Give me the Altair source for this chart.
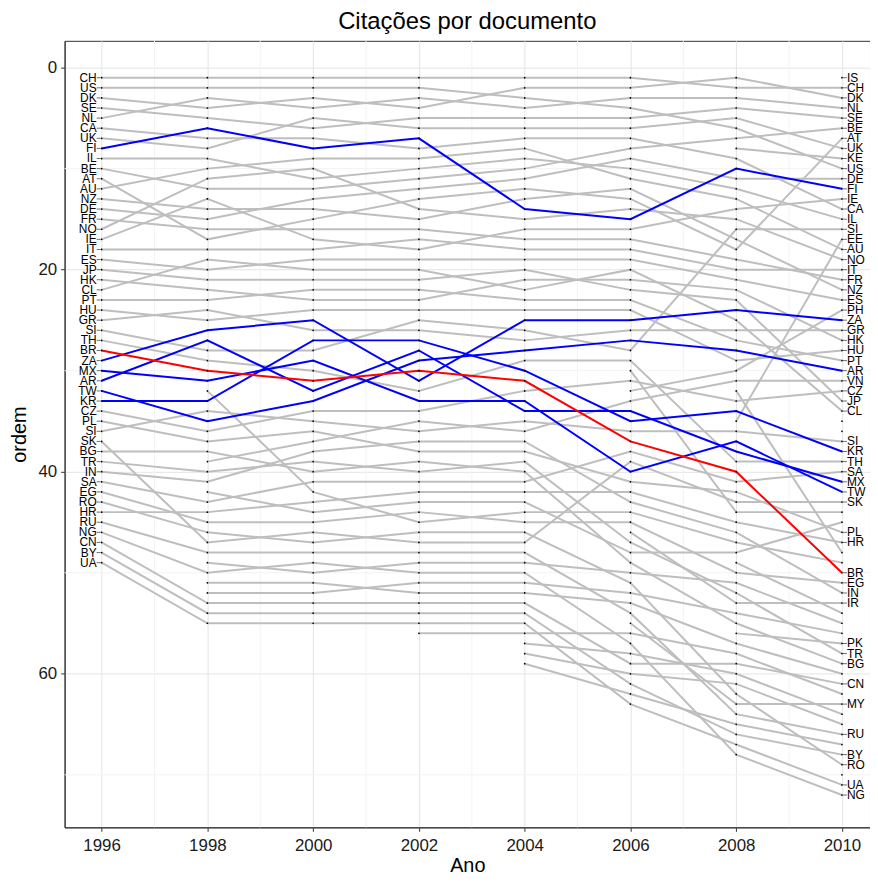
import altair as alt
import pandas as pd

YEARS = [1996, 1998, 2000, 2002, 2004, 2006, 2008, 2010]
N = None

# rank per year (1996 ... 2010); None = country not ranked that year
SERIES = {
    "CH": [1, 1, 1, 1, 1, 1, 2, 2],
    "US": [2, 2, 2, 2, 3, 4, 6, 10],
    "DK": [3, 4, 3, 4, 2, 2, 1, 3],
    "SE": [4, 5, 6, 5, 5, 5, 4, 5],
    "NL": [5, 3, 4, 3, 4, 3, 3, 4],
    "CA": [6, 7, 7, 8, 7, 7, 9, 14],
    "UK": [7, 8, 5, 6, 6, 6, 5, 8],
    "FI": [8, 6, 8, 7, 14, 15, 10, 12],
    "IL": [9, 9, 11, 10, 9, 10, 12, 15],
    "BE": [10, 12, 12, 11, 10, 8, 7, 6],
    "AT": [11, 17, 15, 13, 12, 13, 18, 7],
    "AU": [12, 10, 9, 9, 8, 11, 13, 18],
    "NZ": [13, 14, 14, 15, 13, 12, 17, 22],
    "DE": [14, 15, 13, 12, 11, 9, 11, 11],
    "FR": [15, 16, 16, 16, 17, 17, 19, 21],
    "NO": [16, 11, 10, 14, 15, 14, 15, 19],
    "IE": [17, 13, 17, 18, 16, 16, 14, 13],
    "IT": [18, 18, 18, 17, 18, 18, 20, 20],
    "ES": [19, 20, 19, 19, 19, 19, 21, 23],
    "JP": [20, 21, 21, 21, 20, 22, 23, 33],
    "HK": [21, 22, 23, 23, 21, 21, 22, 27],
    "CL": [22, 19, 20, 20, 22, 20, 25, 34],
    "PT": [23, 23, 22, 22, 23, 23, 27, 29],
    "HU": [24, 25, 24, 24, 24, 24, 29, 28],
    "GR": [25, 24, 26, 26, 27, 26, 26, 26],
    "SI": [26, 28, 28, 25, 26, 28, 16, 16],
    "TH": [27, 29, 30, 32, 29, 29, 39, 39],
    "BR": [28, 30, 31, 30, 31, 37, 40, 50],
    "ZA": [29, 26, 25, 31, 25, 25, 24, 25],
    "MX": [30, 31, 29, 33, 33, 40, 37, 42],
    "AR": [31, 27, 32, 28, 34, 34, 38, 41],
    "TW": [32, 35, 33, 29, 28, 27, 28, 30],
    "KR": [33, 33, 27, 27, 30, 35, 34, 38],
    "CZ": [34, 36, 34, 34, 32, 31, 33, 32],
    "PL": [35, 37, 36, 38, 38, 41, 42, 46],
    "SI_2": [36, 34, 35, 36, 35, 36, 36, 37],
    "SK": [37, 47, 46, 47, 47, 39, 43, 43],
    "BG": [38, 38, 40, 39, 40, 49, 55, 59],
    "TR": [39, 40, 39, 40, 39, 47, 52, 58],
    "IN": [40, 41, 38, 37, 37, 43, 46, 52],
    "SA": [41, 43, 41, 41, 41, 38, 41, 40],
    "EG": [42, 45, 45, 44, 45, 45, 50, 51],
    "RO": [43, 46, 47, 46, 46, 51, 62, 69],
    "HR": [44, 44, 43, 42, 42, 42, 45, 47],
    "RU": [45, 48, 48, 48, 48, 54, 64, 66],
    "NG": [46, 50, 49, 50, 50, 57, 68, 72],
    "CN": [47, 53, 53, 53, 53, 59, 59, 61],
    "BY": [48, 54, 54, 54, 54, 61, 66, 68],
    "UA": [49, 55, 55, 55, 55, 63, 67, 71],
    "VN": [N, 39, 37, 35, 36, 33, 31, 31],
    "E1": [N, 32, 42, 45, 44, 44, 47, 49],
    "E3": [N, 42, 44, 43, 43, 48, 48, 45],
    "E4": [N, 49, 50, 49, 49, 50, 51, 55],
    "E5": [N, 51, 51, 52, 52, 53, 57, 60],
    "E6": [N, 52, 52, 51, 51, 52, 54, 56],
    "E7": [N, N, N, 56, 56, 56, 58, 62],
    "E8": [N, N, N, N, 57, 58, 60, 64],
    "E9": [N, N, N, N, 58, 60, 61, 65],
    "E10": [N, N, N, N, 59, 62, 65, 67],
    "PH": [N, N, N, N, N, 32, 30, 24],
    "E12": [N, N, N, N, N, 30, 44, 44],
    "IR": [N, N, N, N, N, 46, 53, 53],
    "MY": [N, N, N, N, N, 55, 63, 63],
    "KE": [N, N, N, N, N, N, 8, 9],
    "EE": [N, N, N, N, N, N, 35, 17],
    "E19": [N, N, N, N, N, N, 32, 48],
    "PK": [N, N, N, N, N, N, 56, 57],
    "E16": [N, N, N, N, N, N, 49, 54],
    "IS": [N, N, N, N, N, N, N, 1],
    "E35": [N, N, N, N, N, N, N, 35],
    "E36": [N, N, N, N, N, N, N, 36],
    "E70": [N, N, N, N, N, N, N, 70],
}
BLUE = ["FI", "ZA", "MX", "AR", "TW", "KR"]
RED = ["BR"]

LEFT_LABELS = ["CH", "US", "DK", "SE", "NL", "CA", "UK", "FI", "IL", "BE", "AT", "AU",
               "NZ", "DE", "FR", "NO", "IE", "IT", "ES", "JP", "HK", "CL", "PT", "HU",
               "GR", "SI", "TH", "BR", "ZA", "MX", "AR", "TW", "KR", "CZ", "PL", "SI",
               "SK", "BG", "TR", "IN", "SA", "EG", "RO", "HR", "RU", "NG", "CN", "BY", "UA"]
LEFT_RANKS = list(range(1, 50))
RIGHT_LABELS = ["IS", "CH", "DK", "NL", "SE", "BE", "AT", "UK", "KE", "US", "DE", "FI",
                "IE", "CA", "IL", "SI", "EE", "AU", "NO", "IT", "FR", "NZ", "ES", "PH",
                "ZA", "GR", "HK", "HU", "PT", "AR", "VN", "CZ", "JP", "CL", "SI", "KR",
                "TH", "SA", "MX", "TW", "SK", "PL", "HR", "BR", "EG", "IN", "IR", "PK",
                "TR", "BG", "CN", "MY", "RU", "BY", "RO", "UA", "NG"]
RIGHT_RANKS = [1, 2, 3, 4, 5, 6, 7, 8, 9, 10, 11, 12, 13, 14, 15, 16, 17, 18, 19, 20,
               21, 22, 23, 24, 25, 26, 27, 28, 29, 30, 31, 32, 33, 34, 37, 38, 39, 40,
               41, 42, 43, 46, 47, 50, 51, 52, 53, 57, 58, 59, 61, 63, 66, 68, 69, 71, 72]

MINOR_X = [1997, 1999, 2001, 2003, 2005, 2007, 2009]
MINOR_Y = [10, 30, 50, 70]
Y_TICKS = [0, 20, 40, 60]

rows = []
for name, vals in SERIES.items():
    grp = "red" if name in RED else ("blue" if name in BLUE else "gray")
    for yr, v in zip(YEARS, vals):
        if v is not None:
            rows.append({"country": name, "year": yr, "rank": v, "grp": grp})
df = pd.DataFrame(rows)

left_df = pd.DataFrame({"year": YEARS[0], "rank": LEFT_RANKS, "label": LEFT_LABELS})
right_df = pd.DataFrame({"year": YEARS[-1], "rank": RIGHT_RANKS, "label": RIGHT_LABELS})
minx_df = pd.DataFrame({"year": MINOR_X})
miny_df = pd.DataFrame({"rank": MINOR_Y})

FONT = "Liberation Sans"
xs = alt.Scale(domain=[1995.3, 2010.53], nice=False, zero=False)
ys = alt.Scale(domain=[-2.65, 75.2], reverse=True, nice=False, zero=False)
xaxis = alt.Axis(values=YEARS, format="d", title="Ano", grid=True, gridColor="#e4e4e4",
                 labelFontSize=17, titleFontSize=20, labelFont=FONT, titleFont=FONT,
                 labelColor="#1a1a1a", titleColor="#000", titleFontWeight="normal",
                 tickColor="#333", tickSize=4, domainColor="#333", labelPadding=6,
                 titlePadding=2)
yaxis = alt.Axis(values=Y_TICKS, title="ordem", grid=True, gridColor="#e4e4e4",
                 labelFontSize=17, titleFontSize=20, labelFont=FONT, titleFont=FONT,
                 labelColor="#1a1a1a", titleColor="#000", titleFontWeight="normal",
                 tickColor="#333", tickSize=4, domainColor="#333", labelPadding=4,
                 titlePadding=8)
X = alt.X("year:Q", scale=xs, axis=xaxis)
Y = alt.Y("rank:Q", scale=ys, axis=yaxis)

minx = alt.Chart(minx_df).mark_rule(color="#f3f3f3", strokeWidth=1).encode(x=X)
miny = alt.Chart(miny_df).mark_rule(color="#f3f3f3", strokeWidth=1).encode(y=Y)

gray = alt.Chart(df[df.grp == "gray"]).mark_line(color="#bebebe", strokeWidth=2).encode(
    x=X, y=Y, detail="country:N")
blue = alt.Chart(df[df.grp == "blue"]).mark_line(color="#0000ff", strokeWidth=2).encode(
    x=X, y=Y, detail="country:N")
red = alt.Chart(df[df.grp == "red"]).mark_line(color="#ff0000", strokeWidth=2).encode(
    x=X, y=Y, detail="country:N")
pts = alt.Chart(df).mark_point(filled=True, color="#000", size=3, opacity=1).encode(x=X, y=Y)

ltxt = alt.Chart(left_df).mark_text(align="right", baseline="middle", dx=-5, fontSize=12,
                                    font=FONT, color="#000").encode(x=X, y=Y, text="label:N")
rtxt = alt.Chart(right_df).mark_text(align="left", baseline="middle", dx=5, fontSize=12,
                                     font=FONT, color="#000").encode(x=X, y=Y, text="label:N")
ltick = alt.Chart(left_df).mark_tick(orient="horizontal", size=4, thickness=1, color="#333",
                                     xOffset=-3).encode(x=X, y=Y)
rtick = alt.Chart(right_df).mark_tick(orient="horizontal", size=4, thickness=1, color="#333",
                                      xOffset=3).encode(x=X, y=Y)

chart = alt.layer(minx, miny, gray, blue, red, pts, ltick, rtick, ltxt, rtxt).properties(
    width=811, height=792,
    title=alt.Title("Citações por documento", fontSize=24, font=FONT, fontWeight="normal",
                    color="#000", anchor="middle", offset=6),
    autosize=alt.AutoSizeParams(type="none"),
    padding={"left": 57, "top": 30, "right": 0, "bottom": 54},
).configure_view(stroke="#333", strokeWidth=1)

chart.save("out.html", embed_options={"renderer": "svg", "actions": False})
